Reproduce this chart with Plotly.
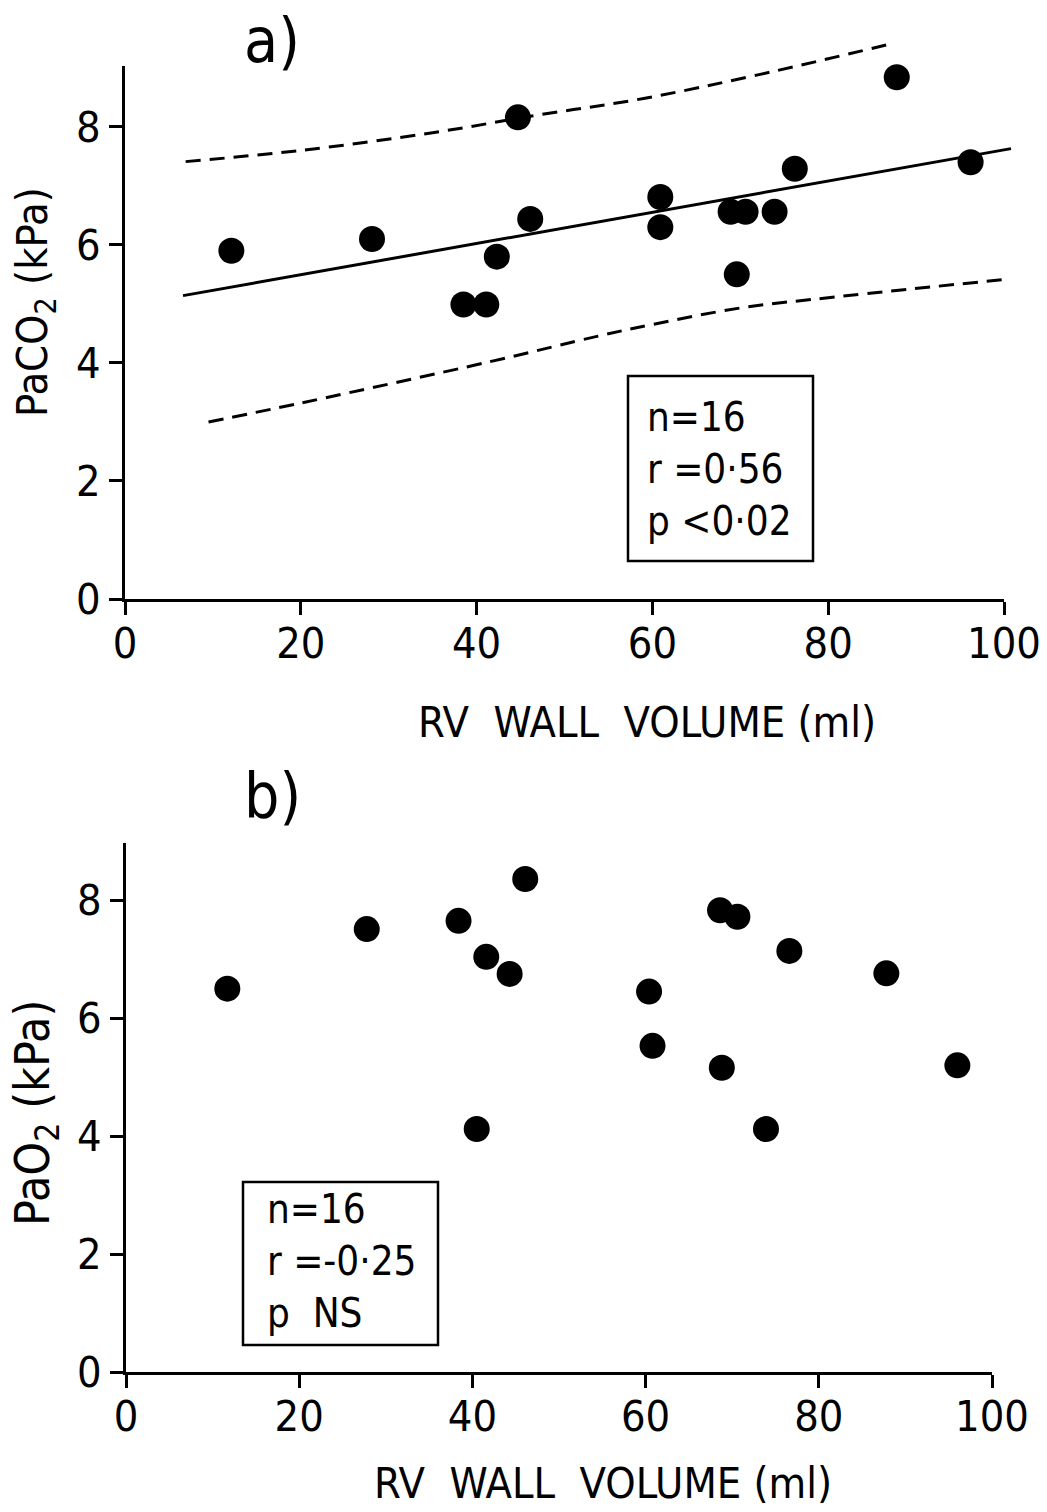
import plotly.graph_objects as go

# ---------------- data ----------------
# Panel a) PaCO2 vs RV wall volume
a_vol = [12.1, 28.1, 38.5, 41.1, 42.3, 44.7, 46.1, 60.9, 60.9, 68.9, 69.6, 70.6, 73.9, 76.2, 87.8, 96.2]
a_paco2 = [5.90, 6.10, 4.99, 4.99, 5.80, 8.16, 6.44, 6.81, 6.30, 6.56, 5.50, 6.56, 6.56, 7.29, 8.84, 7.40]

# regression line and confidence limits
fit_x = [6.6, 100.8]
fit_y = [5.14, 7.63]
upper_x = [6.9, 20.0, 35.0, 47.0, 59.0, 72.0, 87.3]
upper_y = [7.41, 7.60, 7.90, 8.20, 8.48, 8.88, 9.41]
lower_x = [9.5, 20.0, 41.5, 53.7, 60.0, 70.0, 81.0, 100.5]
lower_y = [3.00, 3.32, 4.02, 4.45, 4.65, 4.93, 5.12, 5.42]

# Panel b) PaO2 vs RV wall volume
b_vol = [11.7, 27.8, 38.4, 40.5, 41.6, 44.3, 46.1, 60.4, 60.8, 68.6, 68.8, 70.6, 73.9, 76.6, 87.8, 96.0]
b_pao2 = [6.50, 7.51, 7.65, 4.12, 7.04, 6.75, 8.36, 6.45, 5.53, 7.83, 5.16, 7.72, 4.12, 7.14, 6.76, 5.20]

x_ticks = [0, 20, 40, 60, 80, 100]
y_ticks = [0, 2, 4, 6, 8]

stats_a = ["n=16", "r =0·56", "p <0·02"]
stats_b = ["n=16", "r =-0·25", "p\u00a0\u00a0NS"]

x_title = "RV\u00a0\u00a0WALL\u00a0\u00a0VOLUME\u00a0(ml)"
y_title_a = "PaCO<sub>2</sub> (kPa)"
y_title_b = "PaO<sub>2</sub> (kPa)"

# ---------------- figure ----------------
W, H = 1047, 1512
FONT = "Liberation Sans Narrow, DejaVu Sans Condensed, Liberation Sans, Arial, sans-serif"

def px_x(p):
    return p / W

def px_y(p):
    return 1 - p / H

# pixel geometry of the top panel (for the unclipped line layer)
A_X0, A_X1 = 125, 1004      # x=0 and x=100
A_Y0, A_YTOP = 599, 66      # y=0 and top of axis
A_YMAX = 9.03
px_per_x = (A_X1 - A_X0) / 100.0
px_per_y = (A_Y0 - A_YTOP) / A_YMAX
L_X1, L_YTOP = 1035, 20     # extent of the line layer

fig = go.Figure()

marker = dict(size=26, color="black", line=dict(width=0))

fig.add_trace(go.Scatter(x=fit_x, y=fit_y, mode="lines", line=dict(color="black", width=3),
                         xaxis="x3", yaxis="y3", showlegend=False))
fig.add_trace(go.Scatter(x=upper_x, y=upper_y, mode="lines", line_shape="spline",
                         line=dict(color="black", width=3, dash="15px,9px"),
                         xaxis="x3", yaxis="y3", showlegend=False))
fig.add_trace(go.Scatter(x=lower_x, y=lower_y, mode="lines", line_shape="spline",
                         line=dict(color="black", width=3, dash="15px,9px"),
                         xaxis="x3", yaxis="y3", showlegend=False))
fig.add_trace(go.Scatter(x=a_vol, y=a_paco2, mode="markers", marker=marker,
                         xaxis="x", yaxis="y", cliponaxis=False, showlegend=False))
fig.add_trace(go.Scatter(x=b_vol, y=b_pao2, mode="markers", marker=marker,
                         xaxis="x2", yaxis="y2", cliponaxis=False, showlegend=False))

TICK_SIZE = 43
axis_common = dict(
    showline=True, linecolor="black", linewidth=2.5,
    ticks="outside", ticklen=13, tickwidth=2.5, tickcolor="black",
    showgrid=False, zeroline=False, automargin=False,
    tickfont=dict(family=FONT, size=TICK_SIZE, color="black"),
)

fig.update_layout(
    width=W, height=H,
    margin=dict(l=0, r=0, t=0, b=0),
    paper_bgcolor="white", plot_bgcolor="rgba(0,0,0,0)",
    template="none",
    showlegend=False,
    xaxis=dict(axis_common, domain=[px_x(A_X0), px_x(A_X1)], range=[0, 100],
               tickvals=x_ticks, anchor="y"),
    yaxis=dict(axis_common, domain=[px_y(A_Y0), px_y(A_YTOP)], range=[0, A_YMAX],
               tickvals=y_ticks, anchor="x"),
    xaxis2=dict(axis_common, domain=[px_x(126), px_x(992)], range=[0, 100],
                tickvals=x_ticks, anchor="y2"),
    yaxis2=dict(axis_common, domain=[px_y(1372), px_y(843)], range=[0, 8.97],
                tickvals=y_ticks, anchor="x2"),
    # invisible layer with the same scale as panel a), larger so lines are not clipped
    xaxis3=dict(visible=False, domain=[px_x(A_X0), px_x(L_X1)],
                range=[0, (L_X1 - A_X0) / px_per_x], anchor="y3", fixedrange=True),
    yaxis3=dict(visible=False, domain=[px_y(A_Y0), px_y(L_YTOP)],
                range=[0, (A_Y0 - L_YTOP) / px_per_y], anchor="x3", fixedrange=True),
)

ann = []
# panel labels
ann.append(dict(text="a)", x=px_x(272), y=px_y(40), xref="paper", yref="paper",
                xanchor="center", yanchor="middle", showarrow=False,
                font=dict(family=FONT, size=62, color="black")))
ann.append(dict(text="b)", x=px_x(272), y=px_y(795), xref="paper", yref="paper",
                xanchor="center", yanchor="middle", showarrow=False,
                font=dict(family=FONT, size=62, color="black")))
# x titles
ann.append(dict(text=x_title, x=px_x(647), y=px_y(722), xref="paper", yref="paper",
                xanchor="center", yanchor="middle", showarrow=False,
                font=dict(family=FONT, size=43, color="black")))
ann.append(dict(text=x_title, x=px_x(603), y=px_y(1483), xref="paper", yref="paper",
                xanchor="center", yanchor="middle", showarrow=False,
                font=dict(family=FONT, size=43, color="black")))
# y titles
ann.append(dict(text=y_title_a, x=px_x(35), y=px_y(302), xref="paper", yref="paper",
                xanchor="center", yanchor="middle", textangle=-90, showarrow=False,
                font=dict(family=FONT, size=43, color="black")))
ann.append(dict(text=y_title_b, x=px_x(35), y=px_y(1113), xref="paper", yref="paper",
                xanchor="center", yanchor="middle", textangle=-90, showarrow=False,
                font=dict(family=FONT, size=48, color="black")))
# stats text
ann.append(dict(text="<br>".join(stats_a), x=px_x(645), y=px_y(469), xref="paper", yref="paper",
                xanchor="left", yanchor="middle", showarrow=False, align="left",
                font=dict(family=FONT, size=40, color="black")))
ann.append(dict(text="<br>".join(stats_b), x=px_x(265), y=px_y(1261), xref="paper", yref="paper",
                xanchor="left", yanchor="middle", showarrow=False, align="left",
                font=dict(family=FONT, size=40, color="black")))

# stats boxes (frames)
shapes = [
    dict(type="rect", xref="paper", yref="paper",
         x0=px_x(628), x1=px_x(813), y0=px_y(561), y1=px_y(376),
         line=dict(color="black", width=2.5), fillcolor="rgba(0,0,0,0)"),
    dict(type="rect", xref="paper", yref="paper",
         x0=px_x(243), x1=px_x(438), y0=px_y(1345), y1=px_y(1182),
         line=dict(color="black", width=2.5), fillcolor="rgba(0,0,0,0)"),
]

fig.update_layout(annotations=ann, shapes=shapes)
fig.update_xaxes(ticklabelstandoff=-8, selector=dict(showline=True))

fig.write_html("out.html")
